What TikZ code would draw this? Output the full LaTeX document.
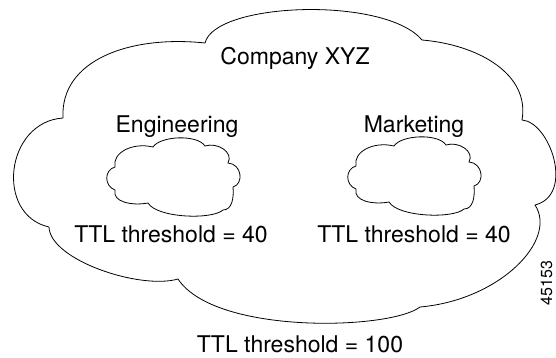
\documentclass[tikz,border=0pt]{standalone}
\usepackage{fontspec}
\setmainfont{TeX Gyre Heros}
\begin{document}
\begin{tikzpicture}[x=1pt,y=-1pt,
  cloudline/.style={draw=black,line width=0.8pt,line join=round},
  lbl/.style={font=\fontsize{23}{27}\selectfont,inner sep=0pt,anchor=base},
  figno/.style={font=\fontsize{16}{19}\selectfont,inner sep=0pt,anchor=base,rotate=90},
  smallcloud/.pic={
    \draw[cloudline] (-57,-11)
      .. controls (-60,-25) and (-40,-36) .. (-19,-31)
      .. controls (-12,-42) and (25,-44) .. (33,-32)
      .. controls (45,-36) and (62,-26) .. (56,-15)
      .. controls (70,-14) and (72,6) .. (61,9)
      .. controls (62,20) and (60,32) .. (51,32)
      .. controls (40,42) and (-15,40) .. (-24,25)
      .. controls (-40,28) and (-60,24) .. (-57,12)
      .. controls (-68,8) and (-68,-8) .. cycle;
  }]
\useasboundingbox (0,0) rectangle (556,358);
% big cloud
\draw[cloudline] (205,43)
  .. controls (215,2) and (385,-4) .. (422,40)
  .. controls (480,45) and (530,75) .. (522,120)
  .. controls (550,122) and (575,195) .. (535,205)
  .. controls (558,240) and (500,300) .. (420,307)
  .. controls (390,330) and (215,335) .. (178,279)
  .. controls (140,290) and (50,260) .. (49,227)
  .. controls (-5,215) and (5,122) .. (63,118)
  .. controls (60,60) and (130,35) .. cycle;
\pic at (172,178) {smallcloud};
\pic at (413,177) {smallcloud};
\node[lbl] (company) at (295,65) {Company XYZ};
\node[lbl] (eng) at (177,133) {Engineering};
\node[lbl] (mkt) at (414,133) {Marketing};
\node[lbl] (ttlL) at (171,242) {TTL threshold = 40};
\node[lbl] (ttlR) at (414,242) {TTL threshold = 40};
\node[lbl] (ttlB) at (300,352) {TTL threshold = 100};
\node[figno] (fig) at (552,283) {45153};
\end{tikzpicture}
\end{document}
